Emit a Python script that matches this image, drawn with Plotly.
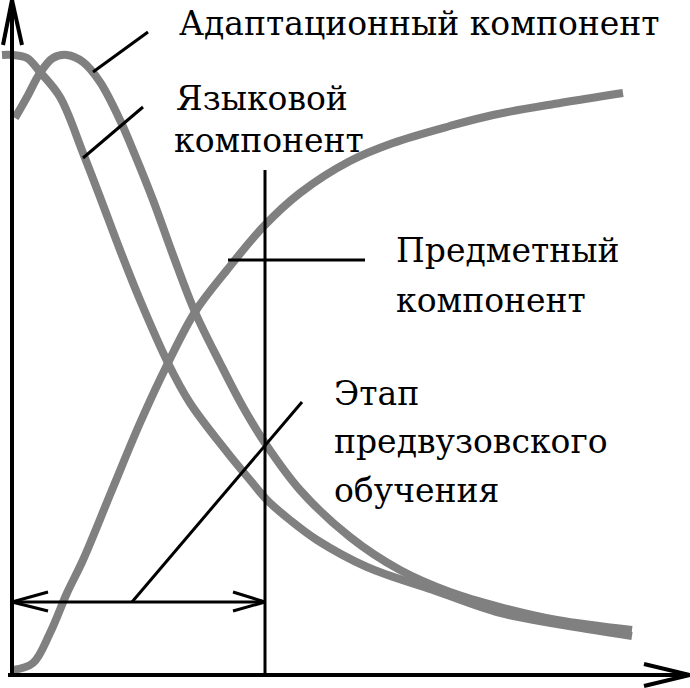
import plotly.graph_objects as go

# curves (x: time from the origin, y: level)
adapt_x = [3, 15, 28, 41, 55, 71, 88, 108, 123, 141, 161, 183, 208, 231, 253, 288, 338, 388, 438, 488, 545, 620]
adapt_y = [557, 578, 602, 617, 620, 613, 593, 555, 520, 475, 420, 363, 312, 268, 232, 185, 138, 105, 83, 68, 55, 45]

lang_x = [-10, 1, 15, 28, 48, 71, 88, 108, 128, 156, 178, 215, 238, 255, 278, 305, 355, 421, 488, 545, 620]
lang_y = [620, 620, 617, 603, 578, 522, 478, 425, 375, 312, 272, 223, 195, 175, 155, 135, 108, 85, 62, 51, 39]

subj_x = [1, 21, 38, 55, 71, 100, 128, 156, 183, 215, 251, 288, 338, 381, 438, 481, 548, 611]
subj_y = [5, 12, 42, 82, 115, 185, 252, 312, 363, 405, 448, 482, 514, 532, 549, 560, 572, 582]

stage_end = 253

label_lines = ["Адаптационный компонент",
               "Языковой", "компонент",
               "Предметный", "компонент",
               "Этап", "предвузовского", "обучения"]

gray = "#808080"
font = dict(family="DejaVu Serif", size=33, color="black")

fig = go.Figure()
for xs, ys in [(adapt_x, adapt_y), (lang_x, lang_y), (subj_x, subj_y)]:
    fig.add_trace(go.Scatter(x=xs, y=ys, mode="lines",
                             line=dict(color=gray, width=8, shape="spline"),
                             hoverinfo="skip", showlegend=False))

def seg(x0, y0, x1, y1, w=3):
    fig.add_shape(type="line", x0=x0, y0=y0, x1=x1, y1=y1,
                  line=dict(color="black", width=w))

# axes with arrows
seg(0, 0, 0, 673, 4)
seg(0, 675, -9, 630, 4)
seg(0, 675, 10, 630, 4)
seg(-4, 0, 678, 0, 4)
seg(678, 0, 632, 11, 4)
seg(678, 0, 632, -11, 4)

# end of the pre-university stage and its double arrow
seg(stage_end, 0, stage_end, 505)
seg(0, 73, stage_end, 73)
seg(0, 73, 36, 83)
seg(0, 73, 36, 64)
seg(stage_end, 73, 221, 83)
seg(stage_end, 73, 221, 64)

# leader lines
seg(81, 603, 136, 643)
seg(71, 517, 131, 568)
seg(216, 415, 353, 415)
seg(120, 73, 290, 273)

label_pos = [(165, 652), (162, 577), (160, 535), (382, 425), (382, 375),
             (320, 282), (320, 234), (320, 185)]
for (x, y), t in zip(label_pos, label_lines):
    fig.add_annotation(x=x, y=y, text=t, showarrow=False, xanchor="left",
                       yanchor="middle", align="left", font=font)

fig.update_layout(width=690, height=688, margin=dict(l=0, r=0, t=0, b=0),
                  plot_bgcolor="white", paper_bgcolor="white")
fig.update_xaxes(range=[-12, 678], visible=False)
fig.update_yaxes(range=[-13, 675], visible=False)

fig.write_html("out.html", config={"displayModeBar": False},
               post_script="document.body.style.margin='0';")
